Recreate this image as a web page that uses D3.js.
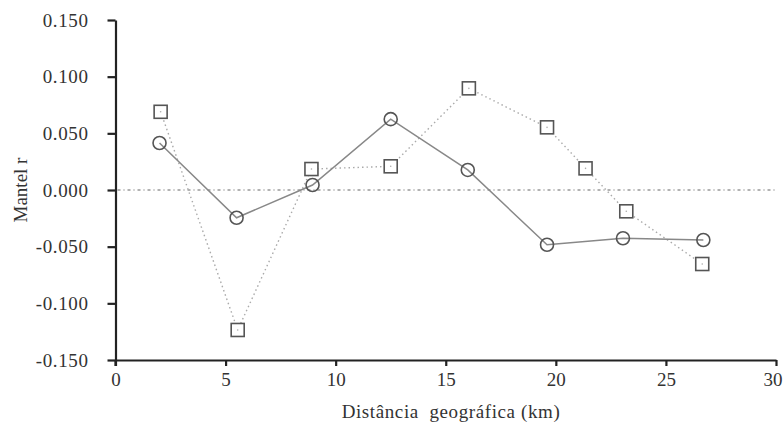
<!DOCTYPE html>
<html><head><meta charset="utf-8">
<script src="https://cdn.jsdelivr.net/npm/d3@7"></script>
<style>body{margin:0;background:#fff}svg{display:block}
svg text{font-family:"Liberation Serif","DejaVu Serif",serif !important;}</style>
</head><body>
<svg id="c" width="784" height="430"></svg>
<script>
const circleX = [2.0, 5.5, 8.95, 12.5, 16.0, 19.6, 23.05, 26.7];
const circleY = [0.0415, -0.0245, 0.0044, 0.0625, 0.0177, -0.0483, -0.0426, -0.0441];
const squareX = [2.05, 5.55, 8.9, 12.5, 16.05, 19.6, 21.35, 23.2, 26.65];
const squareY = [0.069, -0.1235, 0.0185, 0.0209, 0.0897, 0.0553, 0.0191, -0.0188, -0.0653];
const xTicks = [0, 5, 10, 15, 20, 25, 30];
const yTicks = [-0.15, -0.10, -0.05, 0, 0.05, 0.10, 0.15];
const xTitle = "Distância\u00A0\u00A0geográfica (km)";
const yTitle = "Mantel r";

const svg = d3.select("#c");
const x = d3.scaleLinear().domain([0, 30]).range([115.5, 776]);
const y = d3.scaleLinear().domain([-0.15, 0.15]).range([360, 20]);

// zero line
svg.append("line").attr("x1", x(0) + 2).attr("x2", x(30)).attr("y1", y(0)).attr("y2", y(0))
  .attr("stroke", "#999").attr("stroke-width", 1.3).attr("stroke-dasharray", "3,3,1,3");

// axes
const xa = svg.append("g").attr("transform", `translate(0,${y(-0.15)})`)
  .call(d3.axisBottom(x).tickValues(xTicks).tickSize(6).tickSizeOuter(0).tickPadding(7).tickFormat(d3.format("d")));
const ya = svg.append("g").attr("transform", `translate(${x(0)},0)`)
  .call(d3.axisLeft(y).tickValues(yTicks).tickSize(8).tickSizeOuter(0).tickPadding(19).tickFormat(d3.format(".3f")));
[xa, ya].forEach(a => {
  a.attr("font-family", null).attr("font-size", null);
  a.select(".domain").attr("stroke", "#222").attr("stroke-width", 2.2);
  a.selectAll(".tick line").attr("stroke", "#222").attr("stroke-width", 2.2);
  a.selectAll(".tick text").attr("fill", "#333").style("font-size", "19px");
});
xa.selectAll(".tick text").filter(d => d === 30).attr("text-anchor", "end").attr("x", 6);
ya.selectAll(".tick text").style("letter-spacing", "0.6px").text(d => d3.format(".3f")(d).replace("−", "-"));
svg.append("line").attr("x1", x(0)).attr("x2", x(0)).attr("y1", y(-0.15)).attr("y2", y(-0.15) + 6)
  .attr("stroke", "#222").attr("stroke-width", 2.2);

// lines
const sq = squareX.map((v, i) => [v, squareY[i]]);
const ci = circleX.map((v, i) => [v, circleY[i]]);
const line = d3.line().x(d => x(d[0])).y(d => y(d[1]));
svg.append("path").attr("d", line(sq)).attr("fill", "none").attr("stroke", "#aaa")
  .attr("stroke-width", 1.4).attr("stroke-dasharray", "1.5,3");
svg.append("path").attr("d", line(ci)).attr("fill", "none").attr("stroke", "#888").attr("stroke-width", 1.5);

// markers
svg.selectAll(".sq").data(sq).enter().append("rect")
  .attr("x", d => x(d[0]) - 6.5).attr("y", d => y(d[1]) - 6.5).attr("width", 13).attr("height", 13)
  .attr("fill", "#fff").attr("stroke", "#555").attr("stroke-width", 1.6);
svg.selectAll(".sqd").data(sq).enter().append("circle")
  .attr("cx", d => x(d[0])).attr("cy", d => y(d[1])).attr("r", 0.8).attr("fill", "#aaa");
svg.selectAll(".ci").data(ci).enter().append("circle")
  .attr("cx", d => x(d[0])).attr("cy", d => y(d[1])).attr("r", 6.5)
  .attr("fill", "none").attr("stroke", "#555").attr("stroke-width", 1.6);

// titles
svg.append("text").attr("x", 451).attr("y", 418).attr("text-anchor", "middle")
  .style("font-size", "19px").style("letter-spacing", "0.6px").attr("fill", "#333").text(xTitle);
svg.append("text").attr("transform", "translate(27,190) rotate(-90)").attr("text-anchor", "middle")
  .style("font-size", "19px").attr("fill", "#333").text(yTitle);
</script>
</body></html>
